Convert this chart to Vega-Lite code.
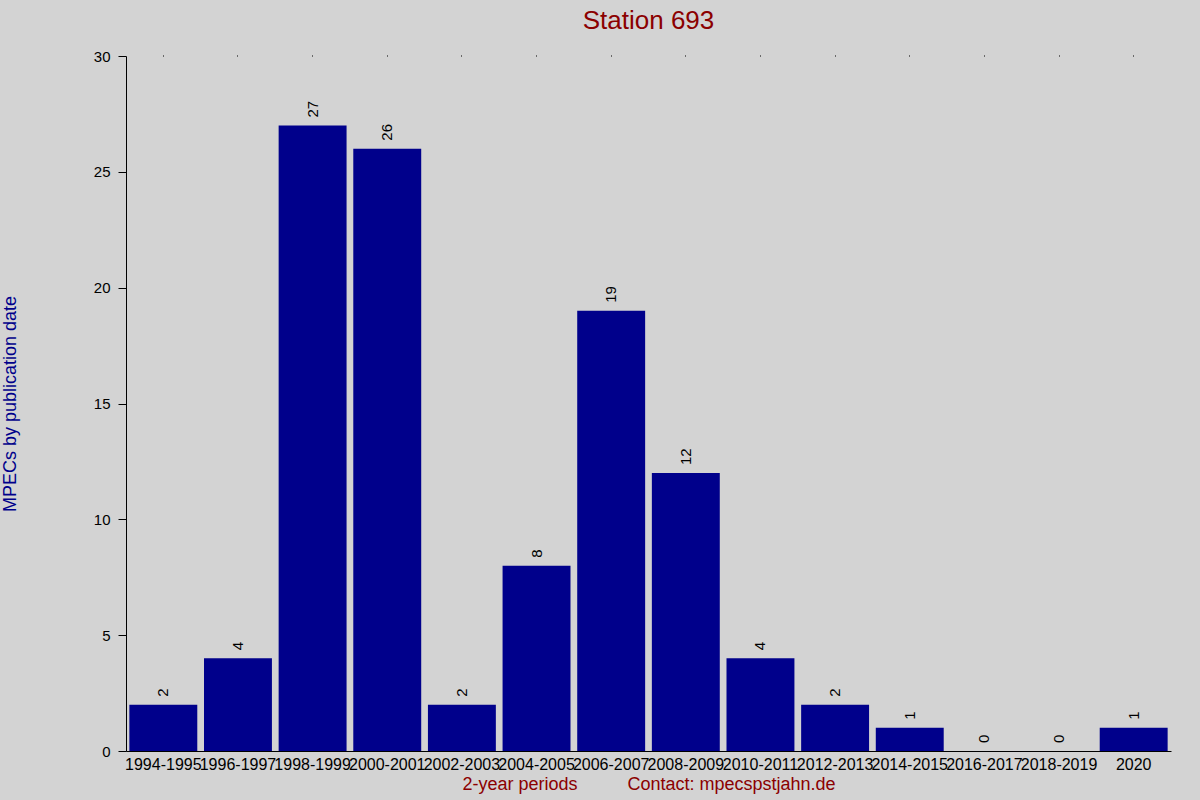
{
  "$schema": "https://vega.github.io/schema/vega-lite/v6.json",
  "autosize": "none",
  "width": 1045,
  "height": 695,
  "padding": {"left": 126, "top": 56, "right": 29, "bottom": 49},
  "background": "#d3d3d3",
  "config": {
    "view": {"stroke": null},
    "font": "Liberation Sans",
    "axis": {"grid": false, "domainColor": "black", "tickColor": "black", "labelColor": "black"}
  },
  "title": {
    "text": "Station 693",
    "fontSize": 26,
    "fontWeight": "normal",
    "color": "#8b0000",
    "anchor": "middle",
    "offset": 15
  },
  "data": {
    "values": [
      {"period": "1994-1995", "count": 2},
      {"period": "1996-1997", "count": 4},
      {"period": "1998-1999", "count": 27},
      {"period": "2000-2001", "count": 26},
      {"period": "2002-2003", "count": 2},
      {"period": "2004-2005", "count": 8},
      {"period": "2006-2007", "count": 19},
      {"period": "2008-2009", "count": 12},
      {"period": "2010-2011", "count": 4},
      {"period": "2012-2013", "count": 2},
      {"period": "2014-2015", "count": 1},
      {"period": "2016-2017", "count": 0},
      {"period": "2018-2019", "count": 0},
      {"period": "2020", "count": 1}
    ]
  },
  "layer": [
    {
      "mark": {"type": "bar", "color": "#00008b"},
      "encoding": {
        "x": {
          "field": "period",
          "type": "nominal",
          "sort": null,
          "scale": {"paddingInner": 0.09, "paddingOuter": 0.045},
          "axis": {
            "orient": "bottom",
            "title": "2-year periods\u00a0\u00a0\u00a0\u00a0\u00a0\u00a0\u00a0\u00a0\u00a0\u00a0Contact: mpecspstjahn.de",
            "titleColor": "#8b0000",
            "titleFontSize": 18,
            "titleFontWeight": "normal",
            "titlePadding": 3,
            "labelAngle": 0,
            "labelFontSize": 16,
            "labelPadding": 5,
            "ticks": false,
            "labelOverlap": false
          }
        },
        "y": {
          "field": "count",
          "type": "quantitative",
          "scale": {"domain": [0, 30]},
          "axis": {
            "title": "MPECs by publication date",
            "titleColor": "#00008b",
            "titleFontSize": 18,
            "titleFontWeight": "normal",
            "titlePadding": 74,
            "values": [0, 5, 10, 15, 20, 25, 30],
            "tickSize": 8,
            "labelFontSize": 15,
            "labelPadding": 8
          }
        }
      }
    },
    {
      "mark": {"type": "text", "angle": 270, "align": "left", "baseline": "middle", "dx": 8, "fontSize": 15, "color": "black"},
      "encoding": {
        "x": {"field": "period", "type": "nominal", "sort": null, "scale": {"paddingInner": 0.09, "paddingOuter": 0.045}, "axis": null},
        "y": {"field": "count", "type": "quantitative", "scale": {"domain": [0, 30]}},
        "text": {"field": "count", "type": "quantitative"}
      }
    },
    {
      "mark": {"type": "tick", "opacity": 0},
      "encoding": {
        "x": {
          "field": "period",
          "type": "nominal",
          "sort": null,
          "scale": {"paddingInner": 0.09, "paddingOuter": 0.045},
          "axis": {"orient": "top", "title": null, "labels": false, "domain": false, "tickSize": 1, "tickColor": "black"}
        },
        "y": {"field": "count", "type": "quantitative", "scale": {"domain": [0, 30]}}
      }
    }
  ],
  "resolve": {"axis": {"x": "independent"}}
}
